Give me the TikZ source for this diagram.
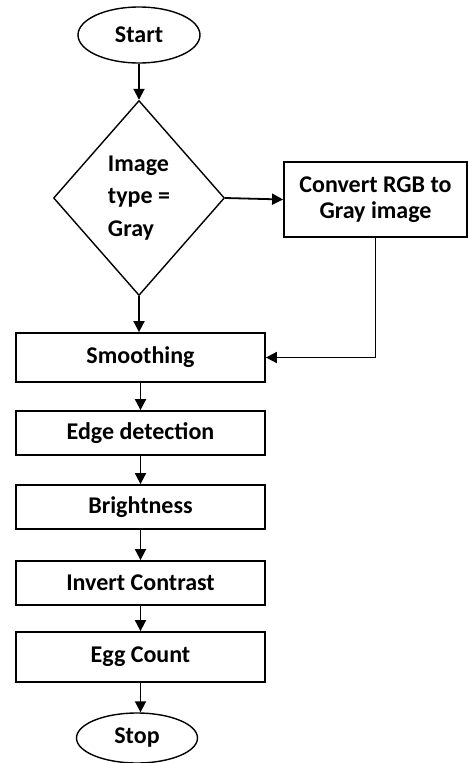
\documentclass[tikz,border=0pt]{standalone}
\usepackage{fontspec}
\setmainfont{Carlito}
\usetikzlibrary{shapes.geometric,arrows.meta}
\begin{document}
\begin{tikzpicture}[x=1pt,y=-1pt,
  every node/.style={font=\fontsize{24}{26}\selectfont\bfseries},
  proc/.style={draw,line width=1.8pt,minimum width=249pt,inner sep=0pt},
  term/.style={draw,ellipse,line width=1.4pt,minimum width=122pt,inner sep=0pt},
  arr/.style={line width=1.8pt,-{Triangle[length=11pt,width=11pt]}}]
\useasboundingbox (0,0) rectangle (468,763);
\node[term,minimum height=56pt] (start) at (139,35) {Start};
\node[draw,diamond,line width=1.4pt,minimum width=171pt,minimum height=195pt,inner sep=0pt,align=left,font=\fontsize{24}{32.5}\selectfont\bfseries] (dec) at (139,198) {Image\\type =\\Gray};
\node[draw,line width=1.8pt,minimum width=183pt,minimum height=75pt,inner sep=0pt,align=center] (conv) at (375.5,199.5) {Convert RGB to\\Gray image};
\node[proc,minimum height=49pt] (smooth) at (140.5,357.5) {Smoothing};
\node[proc,minimum height=44pt] (edge) at (140.5,433) {Edge detection};
\node[proc,minimum height=44pt] (bright) at (140.5,507) {Brightness};
\node[proc,minimum height=44pt] (inv) at (140.5,583) {Invert Contrast};
\node[proc,minimum height=50pt] (egg) at (140.5,657) {Egg Count};
\node[term,minimum height=50pt,minimum width=121pt] (stop) at (137,738) {Stop};
\draw[arr] (start.south) -- (dec.north);
\draw[arr] (dec.east) -- (conv.west);
\draw[arr] (dec.south) -- (dec.south |- smooth.north);
\draw[arr] (conv.south) |- (smooth.east);
\draw[arr] (smooth.south) -- (edge.north);
\draw[arr] (edge.south) -- (bright.north);
\draw[arr] (bright.south) -- (inv.north);
\draw[arr] (inv.south) -- (egg.north);
\draw[arr] (egg.south) -- (egg.south |- stop.north);
\end{tikzpicture}
\end{document}
